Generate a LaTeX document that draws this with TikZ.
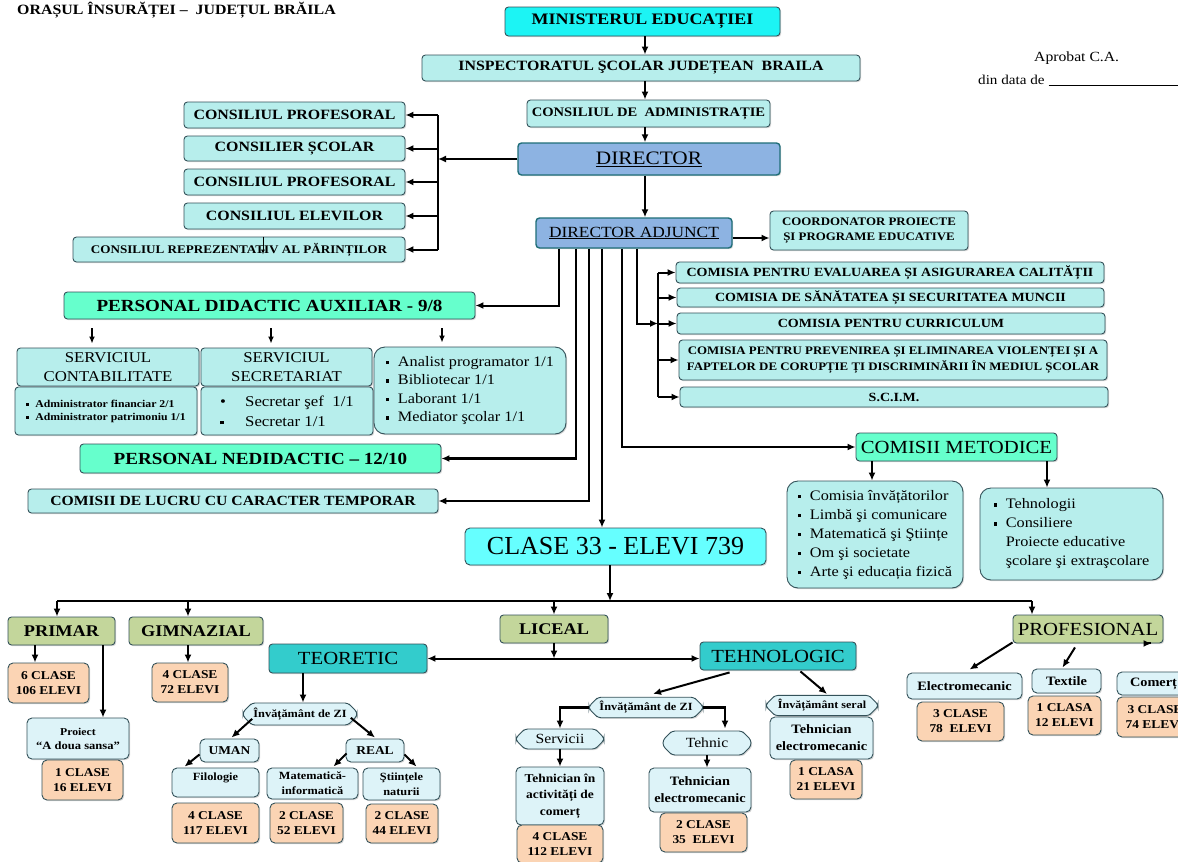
\documentclass[tikz,border=0pt]{standalone}
\usepackage{fontspec}
\setmainfont{Liberation Serif}[FakeStretch=1.12]
\newfontfamily\clasefont{Liberation Serif}
\usetikzlibrary{arrows.meta,shapes.misc,calc,shadows}
\definecolor{cyb}{HTML}{1CF4F4}
\definecolor{lcy}{HTML}{B7EEEC}
\definecolor{dirb}{HTML}{8DB3E2}
\definecolor{mintc}{HTML}{66FFCC}
\definecolor{clasec}{HTML}{66FFFF}
\definecolor{olc}{HTML}{C3D69B}
\definecolor{tealc}{HTML}{33CCCC}
\definecolor{peachc}{HTML}{FBD4B4}
\definecolor{paleb}{HTML}{DDF3F8}
\definecolor{bordc}{HTML}{34525A}
\definecolor{dirbord}{HTML}{1F6E78}
\newcommand\fs[2]{\fontsize{#1}{#2}\selectfont}
\newcommand\sq{\makebox[12pt][l]{\raisebox{0.3ex}{\rule{3.5pt}{3.5pt}}}}
\newcommand\sqs{\makebox[9pt][l]{\raisebox{0.3ex}{\rule{2.8pt}{2.8pt}}}}
\newcommand\nosq{\hspace*{12pt}}
\newcommand\B[7]{\node[#1, minimum width=#5pt-#3pt, minimum height=#6pt-#4pt] (#2) at ({(#3+#5)/2},{(#4+#6)/2}) {#7};}
\begin{document}
\begin{tikzpicture}[x=1pt,y=-1pt,
  bxbase/.style={draw=bordc, line width=0.9pt, rounded corners=3.5pt, inner sep=1pt, align=center, text=black,
     drop shadow={shadow xshift=1.2pt,shadow yshift=-1.2pt,opacity=0.3}},
  cy/.style={bxbase, fill=cyb},
  lc/.style={bxbase, fill=lcy},
  dir/.style={bxbase, fill=dirb, draw=dirbord, line width=1.4pt},
  mint/.style={bxbase, fill=mintc},
  cl/.style={bxbase, fill=clasec, rounded corners=5pt},
  ol/.style={bxbase, fill=olc},
  tl/.style={bxbase, fill=tealc},
  pc/.style={bxbase, fill=peachc, rounded corners=5pt},
  pb/.style={bxbase, fill=paleb, rounded corners=5pt},
  ch/.style={bxbase, fill=paleb, shape=chamfered rectangle, chamfered rectangle xsep=6pt, rounded corners=3pt},
  fA/.style={font=\bfseries\fs{16}{19}},
  fB/.style={font=\bfseries\fs{14.2}{17}},
  fC/.style={font=\bfseries\fs{13}{15}},
  fD/.style={font=\fs{19}{22}},
  fE/.style={font=\fs{15.5}{18}},
  fF/.style={font=\bfseries\fs{11.5}{15}},
  fG/.style={font=\bfseries\fs{14.2}{17}},
  fH/.style={font=\bfseries\fs{11.7}{14}},
  fI/.style={font=\bfseries\fs{12.5}{15}},
  fJ/.style={font=\bfseries\fs{11.5}{16}},
  fK/.style={font=\bfseries\fs{17}{20}},
  fL/.style={font=\fs{15}{19}},
  fM/.style={font=\bfseries\fs{10.5}{13}, align=left},
  fN/.style={font=\fs{15}{20}, align=left},
  fO/.style={font=\fs{14.5}{18.5}, align=left},
  fP/.style={font=\bfseries\fs{14}{17}},
  fQ/.style={font=\fs{18.5}{22}},
  fR/.style={font=\fs{14.5}{19}, align=left},
  fS/.style={font=\clasefont\fs{26}{30}},
  fT/.style={font=\bfseries\fs{16.3}{19}},
  fU/.style={font=\fs{18.5}{21}},
  fV/.style={font=\bfseries\fs{12}{15}},
  fW/.style={font=\bfseries\fs{11.2}{14}},
  fX/.style={font=\bfseries\fs{11}{15}},
  fZ/.style={font=\fs{14}{16}},
  fV2/.style={font=\bfseries\fs{12}{16.5}},
  fV3/.style={font=\bfseries\fs{12.8}{17}},
  fX2/.style={font=\bfseries\fs{10.8}{13}},
  arr/.style={-{Latex[length=8pt,width=7pt]}, line width=2pt},
  arrs/.style={-{Latex[length=7pt,width=6pt]}, line width=1.5pt},
  arr2/.style={{Latex[length=8pt,width=7pt]}-{Latex[length=8pt,width=7pt]}, line width=2pt},
  thk/.style={line width=2.8pt},
  ln/.style={line width=2pt}]
\useasboundingbox (0,0) rectangle (1178,862);
\fill[white] (0,0) rectangle (1178,862);

% header texts
\node[anchor=base west, font=\bfseries\fs{14.2}{17}, inner sep=0] (hdr) at (17,14) {ORAȘUL ÎNSURĂȚEI –\ \ JUDEȚUL BRĂILA};
\node[anchor=base west, font=\fs{14}{17}, inner sep=0] (apr) at (1034,61) {Aprobat C.A.};
\node[anchor=base west, font=\fs{13.5}{16}, inner sep=0] (dd) at (978,84) {din data de};
\draw[line width=0.8pt] ($(dd.base east)+(4,1.5)$) -- ++(140,0);

% top chain
\B{cy,fA}{MIN}{505}{7}{780}{36}{MINISTERUL EDUCAȚIEI}
\B{lc,fB}{INSP}{422}{55}{860}{81}{INSPECTORATUL ŞCOLAR JUDEȚEAN\ \ BRAILA}
\B{lc,fC}{CA}{527}{100}{770}{127}{CONSILIUL DE\ \ ADMINISTRAȚIE}
\B{dir,fD}{DIR}{518}{143}{780}{175}{\underline{DIRECTOR}}
\B{dir,fE}{DA}{536}{218}{732}{248}{\underline{DIRECTOR ADJUNCT}}
\B{lc,fF}{COORD}{770}{211}{968}{250}{COORDONATOR PROIECTE\\ȘI PROGRAME EDUCATIVE}

% left councils
\B{lc,fG}{L1}{184}{102}{405}{128}{CONSILIUL PROFESORAL}
\B{lc,fG}{L2}{184}{136}{405}{161}{CONSILIER ȘCOLAR}
\B{lc,fG}{L3}{184}{169}{405}{195}{CONSILIUL PROFESORAL}
\B{lc,fG}{L4}{184}{203}{405}{229}{CONSILIUL ELEVILOR}
\B{lc,fH}{L5}{73}{237}{405}{262}{CONSILIUL REPREZENTATIV AL PĂRINȚILOR}

% commissions
\B{lc,fI}{C1}{676}{262}{1104}{283}{COMISIA PENTRU EVALUAREA ȘI ASIGURAREA CALITĂȚII}
\B{lc,fI}{C2}{677}{288}{1104}{307}{COMISIA DE SĂNĂTATEA ȘI SECURITATEA MUNCII}
\B{lc,fI}{C3}{677}{313}{1105}{334}{COMISIA PENTRU CURRICULUM}
\B{lc,fJ}{C4}{679}{340}{1107}{380}{COMISIA PENTRU PREVENIREA ȘI ELIMINAREA VIOLENȚEI ȘI A\\FAPTELOR DE CORUPȚIE ȚI DISCRIMINĂRII ÎN MEDIUL ȘCOLAR}
\B{lc,fI}{C5}{680}{387}{1108}{407}{S.C.I.M.}

% personal
\B{mint,fK}{PDA}{64}{292}{475}{319}{PERSONAL DIDACTIC AUXILIAR - 9/8}
\B{lc,fL}{SC}{17}{348}{199}{386}{SERVICIUL\\CONTABILITATE}
\B{lc,fM}{SCL}{15}{387}{197}{435}{\sqs Administrator financiar 2/1\\\sqs Administrator patrimoniu 1/1}
\B{lc,fL}{SS}{201}{348}{372}{386}{SERVICIUL\\SECRETARIAT}
\B{lc,fN}{SSL}{201}{387}{373}{435}{\makebox[25pt][l]{•}Secretar şef\ \ 1/1\\\makebox[25pt][l]{\raisebox{0.3ex}{\rule{3.5pt}{3.5pt}}}Secretar 1/1}
\B{lc,fO,rounded corners=11pt}{PL}{374}{347}{566}{434}{\sq Analist programator 1/1\\\sq Bibliotecar 1/1\\\sq Laborant 1/1\\\sq Mediator şcolar 1/1}
\B{mint,fK}{PN}{80}{444}{441}{473}{PERSONAL NEDIDACTIC – 12/10}
\B{lc,fP}{CL}{28}{489}{438}{513}{COMISII DE LUCRU CU CARACTER TEMPORAR}

% comisii metodice
\B{mint,fQ}{CM}{856}{433}{1057}{461}{COMISII METODICE}
\B{lc,fR,rounded corners=11pt}{CML}{787}{481}{963}{588}{\sq Comisia învățătorilor\\\sq Limbă şi comunicare\\\sq Matematică şi Ştiințe\\\sq Om şi societate\\\sq Arte şi educația fizică}
\B{lc,fR,rounded corners=11pt}{CMR}{980}{488}{1163}{580}{\sq Tehnologii\\\sq Consiliere\\\nosq Proiecte educative\\\nosq şcolare şi extraşcolare}

% clase
\B{cl,fS}{CLASE}{465}{528}{766}{565}{CLASE 33 - ELEVI 739}

% levels
\B{ol,fT}{PRIMAR}{8}{617}{115}{645}{PRIMAR}
\B{ol,fT}{GIM}{129}{617}{263}{645}{GIMNAZIAL}
\B{ol,fT}{LIC}{500}{615}{608}{643}{LICEAL}
\B{ol,fU}{PROF}{1013}{615}{1163}{643}{PROFESIONAL}
\B{tl,fU}{TEO}{269}{644}{427}{673}{TEORETIC}
\B{tl,fU}{TEH}{700}{642}{856}{670}{TEHNOLOGIC}

\B{pc,fV}{P6}{8}{663}{89}{703}{6 CLASE\\106 ELEVI}
\B{pb,fW}{PRO}{27}{718}{129}{759}{{\fs{10.5}{13}Proiect}\\“A doua sansa”}
\B{pc,fV}{P1}{42}{760}{123}{800}{1 CLASE\\16 ELEVI}
\B{pc,fV}{G4}{152}{663}{228}{702}{4 CLASE\\72 ELEVI}

\B{ch,fX}{IZ1}{243}{703}{357}{725}{Învățământ de ZI}
\B{pb,fV}{UMAN}{200}{739}{259}{762}{UMAN}
\B{pb,fV}{REAL}{346}{739}{404}{762}{REAL}
\B{pb,fX,text depth=12pt}{FIL}{172}{768}{259}{797}{Filologie}
\B{pb,fX}{MAT}{267}{768}{358}{799}{Matematică-\\informatică}
\B{pb,fX}{STI}{363}{768}{440}{800}{Ştiințele\\naturii}
\B{pc,fV}{F4}{172}{803}{259}{843}{4 CLASE\\117 ELEVI}
\B{pc,fV}{M2}{270}{803}{343}{843}{2 CLASE\\52 ELEVI}
\B{pc,fV}{S2}{366}{804}{438}{843}{2 CLASE\\44 ELEVI}

\B{ch,fX}{IZ2}{589}{698}{703}{717}{Învățământ de ZI}
\B{ch,fZ}{SERV}{516}{729}{604}{749}{Servicii}
\B{ch,fZ}{TEHN}{663}{731}{751}{755}{Tehnic}
\B{pb,fV2}{TAC}{516}{767}{604}{825}{Tehnician în\\activități de\\comerț}
\B{pc,fV}{T4}{517}{825}{603}{863}{4 CLASE\\112 ELEVI}
\B{pb,fV3}{TEL}{649}{768}{751}{812}{Tehnician\\electromecanic}
\B{pc,fV}{T2}{660}{813}{747}{852}{2 CLASE\\35\ \ ELEVI}
\B{ch,fX2}{SER}{766}{696}{878}{715}{Învățământ seral}
\B{pb,fV3}{TES}{770}{717}{873}{759}{Tehnician\\electromecanic}
\B{pc,fV}{T1}{790}{760}{862}{799}{1 CLASA\\21 ELEVI}

\B{pb,fV3}{EM}{907}{673}{1022}{699}{Electromecanic}
\B{pc,fV}{E3}{917}{702}{1004}{741}{3 CLASE\\78\ \ ELEVI}
\B{pb,fV3}{TX}{1032}{669}{1101}{693}{Textile}
\B{pc,fV}{X1}{1028}{696}{1101}{735}{1 CLASA\\12 ELEVI}
\B{pb,fV3}{CO}{1117}{672}{1190}{695}{Comerț}
\B{pc,fV}{C3b}{1117}{697}{1193}{737}{3 CLASE\\74 ELEVI}

% coordinates for connector columns
\coordinate (sp) at (645,0);
\coordinate (lb) at (438,0);
\coordinate (d1) at (559,0);
\coordinate (d2) at (576,0);
\coordinate (d3) at (589,0);
\coordinate (d4) at (602,0);
\coordinate (d5) at (622,0);
\coordinate (d6) at (637,0);
\coordinate (cb) at (658,0);
\coordinate (pa1) at (92,0);
\coordinate (pa2) at (271,0);
\coordinate (pa3) at (442,0);
\coordinate (cm1) at (872,0);
\coordinate (cm2) at (1047,0);
\coordinate (b0) at (610,0);
\coordinate (busL) at (57,601);
\coordinate (busR) at (1032,601);
\coordinate (bg) at (188,0);
\coordinate (bl) at (554,0);
\coordinate (pp1) at (35,0);
\coordinate (pp2) at (103,0);
\coordinate (te) at (303,0);

% top connectors
\draw[arr] (sp |- MIN.south) -- (sp |- INSP.north);
\draw[arr] (sp |- INSP.south) -- (sp |- CA.north);
\draw[arr] (sp |- CA.south) -- (sp |- DIR.north);
\draw[arr] (sp |- DIR.south) -- (sp |- DA.north);
\draw[arr] ($(DA.east)+(0,5)$) -- ($(DA.east -| COORD.west)+(0,5)$);

% left bar
\draw[arr] (DIR.west) -- (lb |- DIR.west);
\draw[thk] (lb |- L1.east) -- (lb |- L5.east);
\foreach \n in {L1,L2,L3,L4,L5} \draw[arr] (lb |- \n.east) -- (\n.east);
\draw[-{Latex[length=5pt,width=4pt]}, line width=1pt] ($(L5.north)+(24,0)$) -- ++(0,18);

% director adjunct lines
\draw[arr] (d1 |- DA.south) |- (PDA.east);
\draw[arr,thk] (d2 |- DA.south) |- (PN.east);
\draw[arr,thk] (d3 |- DA.south) |- (CL.east);
\draw[arr] (d4 |- DA.south) -- (d4 |- CLASE.north);
\draw[arr] (d5 |- DA.south) |- (CM.west);
\draw[arr] (d6 |- DA.south) |- (cb |- C3.west);
\draw[ln] (cb |- C1.west) -- (cb |- C5.west);
\foreach \n in {C1,C2,C3,C4,C5} \draw[arr] (cb |- \n.west) -- (\n.west);

% personal didactic auxiliar
\draw[arrs,shorten <=9pt,shorten >=4pt] (pa1 |- PDA.south) -- (pa1 |- SC.north);
\draw[arrs,shorten <=9pt,shorten >=4pt] (pa2 |- PDA.south) -- (pa2 |- SS.north);
\draw[arrs,shorten <=9pt,shorten >=4pt] (pa3 |- PDA.south) -- (pa3 |- PL.north);

% comisii metodice
\draw[arr] (cm1 |- CM.south) -- (cm1 |- CML.north);
\draw[arr] (cm2 |- CM.south) -- (cm2 |- CMR.north);

% bus
\draw[arr] (b0 |- CLASE.south) -- (b0 |- busL);
\draw[thk] (busL) -- (busR);
\draw[arr] (busL) -- (busL |- PRIMAR.north);
\draw[arr] (bg |- busL) -- (bg |- GIM.north);
\draw[arr] (bl |- busL) -- (bl |- LIC.north);
\draw[arr] (busR) -- (busR |- PROF.north);
\draw[arr] (bl |- LIC.south) -- (bl |- TEO.east);
\draw[arr2] (TEO.east) -- (TEO.east -| TEH.west);

% primar, gimnazial
\draw[arr] (pp1 |- PRIMAR.south) -- (pp1 |- P6.north);
\draw[arr] (pp2 |- PRIMAR.south) -- (pp2 |- PRO.north);
\draw[arr] (bg |- GIM.south) -- (bg |- G4.north);

% teoretic
\draw[arr] (te |- TEO.south) -- (te |- IZ1.north);
\draw[arr] ($(IZ1.south west)+(5,-2)$) -- ($(UMAN.north)+(2,-1)$);
\draw[arr] ($(IZ1.south east)+(-2,-3)$) -- ($(REAL.north)+(0,-1)$);
\draw[arr] ($(UMAN.south west)+(0,-8)$) -- ($(FIL.north west)+(13,-1)$);
\draw[arr] ($(REAL.south west)+(1,-9)$) -- ($(MAT.north east)+(-25,-1)$);
\draw[arr] ($(REAL.south east)+(0,-8)$) -- ($(STI.north)+(15,-1)$);

% tehnologic
\draw[arr] ($(TEH.south west)+(30,2)$) -- ($(IZ2.north)+(7,-3)$);
\draw[arr] ($(TEH.south east)+(-56,1)$) -- ($(SER.north)+(5,-1)$);
\draw[arr,thk] (IZ2.west) -| (SERV.north);
\draw[arr,thk] (IZ2.east) -| ($(TEHN.north)+(18,-2)$);
\draw[arr] (SERV.south) -- (TAC.north);
\draw[arr] (TEHN.south) -- (TEHN.south |- TEL.north);

% profesional
\draw[arr] ($(PROF.south west)+(0,-1)$) -- ($(EM.north)+(5,-3)$);
\draw[arr] ($(PROF.south)+(-13,4)$) -- ($(TX.north)+(-4,-1)$);
\draw[arr] ($(PROF.south east)+(-12,0)$) -- ($(PROF.south east -| CO.north)+(-2,0)$ |- CO.north);
\end{tikzpicture}
\end{document}
